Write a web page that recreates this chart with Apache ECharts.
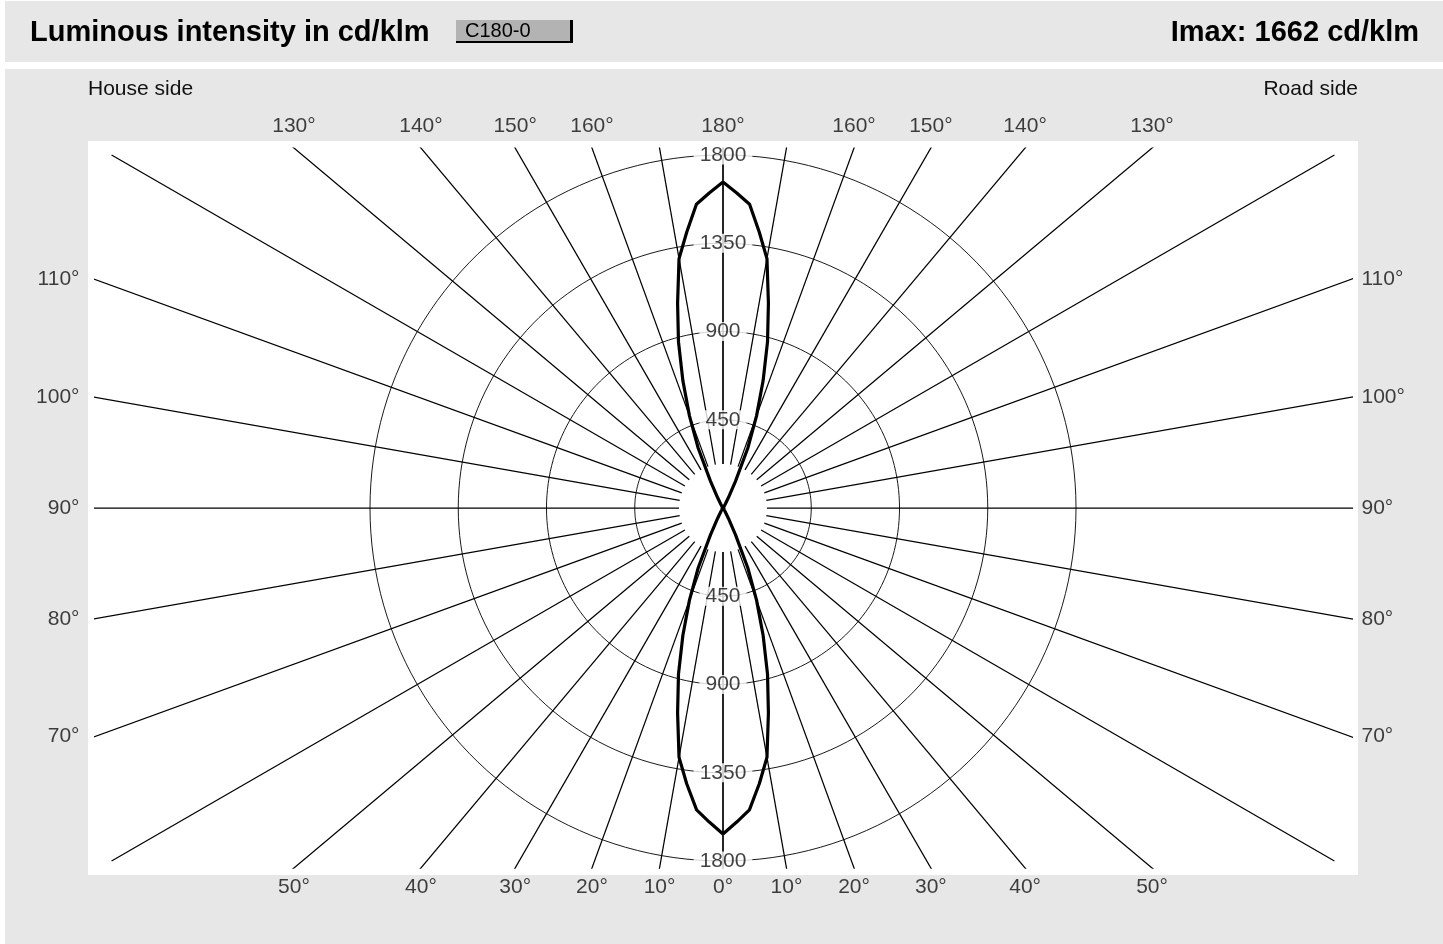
<!DOCTYPE html>
<html>
<head>
<meta charset="utf-8">
<script src="https://cdn.jsdelivr.net/npm/echarts@6.0.0/dist/echarts.min.js"></script>
<style>
html,body{margin:0;padding:0;background:#fff;}
#chart{width:1443px;height:944px;}
</style>
</head>
<body>
<div id="chart"></div>
<script>
// gamma angle in degrees, 0 = straight down, 180 = straight up
var gammaDeg = [0,2.5,5,7.5,10,12.5,15,17.5,20,22.5,25,27.5,30,35,40,45,50,55,60,65,70,75,80,85,90,
    95,100,105,110,115,120,125,130,135,140,145,150,152.5,155,157.5,160,162.5,165,167.5,170,172.5,175,177.5,180];
// road side (C0) and house side (C180), cd/klm
var c0 = [1662,1603,1545,1418,1291,1070,877,680,500,330,150,60,25,10,5,3,2,1,1,1,0,0,0,0,0,
    0,0,0,0,1,1,1,2,3,5,10,25,60,150,330,500,680,877,1070,1291,1418,1555,1608,1662];
var c180 = [1662,1603,1545,1418,1291,1070,877,680,500,330,150,60,25,10,5,3,2,1,1,1,0,0,0,0,0,
    0,0,0,0,1,1,1,2,3,5,10,25,60,150,330,500,680,877,1070,1291,1418,1555,1608,1662];

var ringValues = [450, 900, 1350, 1800];
var ringLabels = ['450', '900', '1350', '1800'];
var spokeAngles = [0,10,20,30,40,50,60,70,80,90,100,110,120,130,140,150,160,170,180];
var labeledAngles = [0,10,20,30,40,50,70,80,90,100,110,130,140,150,160,180];

var cdPerPx = 1800 / 353;
var xMax = 628 * cdPerPx, yMax = 360 * cdPerPx;
var rInner = 44 * cdPerPx, rOuter = 3600;
var textFont = 'Liberation Sans, Arial, sans-serif';

function pt(r, deg, side) {
    var a = deg * Math.PI / 180;
    return [side * r * Math.sin(a), -r * Math.cos(a)];
}

var myChart = echarts.init(document.getElementById('chart'));
var series = [];

// rings
ringValues.forEach(function (v) {
    var d = [];
    for (var a = 0; a <= 360; a += 2) d.push(pt(v, a, 1));
    series.push({type: 'line', data: d, symbol: 'none', silent: true, z: 1,
        lineStyle: {color: '#000', width: 0.9}});
});

// spokes, both sides
[1, -1].forEach(function (side) {
    spokeAngles.forEach(function (a) {
        series.push({type: 'line', data: [pt(rInner, a, side), pt(rOuter, a, side)], symbol: 'none',
            silent: true, z: 1, clip: true, lineStyle: {color: '#000', width: 1.25}});
    });
});

// ring value labels, up and down
var ringPts = [];
ringValues.forEach(function (v, i) {
    ringPts.push({value: [0, v], name: ringLabels[i]});
    ringPts.push({value: [0, -v], name: ringLabels[i]});
});
series.push({type: 'scatter', data: ringPts, symbolSize: 1, z: 5, silent: true,
    itemStyle: {color: 'rgba(0,0,0,0)'},
    label: {show: true, position: 'inside', formatter: '{b}', fontSize: 21, color: '#111',
        fontFamily: textFont, backgroundColor: '#fff',
        padding: [2, 6, 0, 6], lineHeight: 17}});

// angle labels at the ends of the spokes
var angPts = [];
[1, -1].forEach(function (side) {
    labeledAngles.forEach(function (a) {
        if (side < 0 && (a === 0 || a === 180)) return;
        var rad = a * Math.PI / 180;
        var s = Math.abs(Math.sin(rad)), c = Math.abs(Math.cos(rad));
        var tx = s > 1e-9 ? xMax / s : Infinity;
        var ty = c > 1e-9 ? yMax / c : Infinity;
        var t = Math.min(tx, ty, rOuter);
        var pos, dist;
        if (ty <= tx) { pos = a < 90 ? 'bottom' : 'top'; dist = a < 90 ? 8 : 11; }
        else { pos = side > 0 ? 'right' : 'left'; dist = side > 0 ? 10 : 15; }
        angPts.push({value: pt(t, a, side), name: a + '°',
            label: {position: pos, distance: dist}});
    });
});
series.push({type: 'scatter', data: angPts, symbolSize: 1, z: 5, silent: true, clip: false,
    itemStyle: {color: 'rgba(0,0,0,0)'},
    label: {show: true, formatter: '{b}', fontSize: 21, color: '#111', fontFamily: textFont}});

// intensity curve
series.push({type: 'line', name: 'C0', z: 10, symbol: 'none', silent: true,
    data: gammaDeg.map(function (g, i) { return pt(c0[i], g, 1); }),
    lineStyle: {color: '#000', width: 3.2, join: 'round'}});
series.push({type: 'line', name: 'C180', z: 10, symbol: 'none', silent: true,
    data: gammaDeg.map(function (g, i) { return pt(c180[i], g, -1); }),
    lineStyle: {color: '#000', width: 3.2, join: 'round'}});

option = {
    animation: false,
    backgroundColor: '#fff',
    grid: {left: 95, top: 148, width: 1256, height: 720, show: false},
    xAxis: {type: 'value', min: -xMax, max: xMax, show: false},
    yAxis: {type: 'value', min: -yMax, max: yMax, show: false},
    graphic: [
        {type: 'rect', z: -10, shape: {x: 5, y: 1, width: 1438, height: 61}, style: {fill: '#e7e7e7'}},
        {type: 'rect', z: -10, shape: {x: 5, y: 69, width: 1438, height: 875}, style: {fill: '#e7e7e7'}},
        {type: 'rect', z: -9, shape: {x: 88, y: 141, width: 1270, height: 734}, style: {fill: '#fff'}},
        {type: 'text', z: 1, x: 30, y: 33, style: {text: 'Luminous intensity in cd/klm', fill: '#000',
            font: 'bold 29px "Liberation Sans", Arial, sans-serif', align: 'left', verticalAlign: 'middle'}},
        {type: 'rect', z: 1, shape: {x: 456, y: 20, width: 117, height: 23}, style: {fill: '#b3b3b3'}},
        {type: 'rect', z: 2, shape: {x: 456, y: 41, width: 117, height: 2}, style: {fill: '#000'}},
        {type: 'rect', z: 2, shape: {x: 570, y: 20, width: 3, height: 23}, style: {fill: '#000'}},
        {type: 'text', z: 3, x: 465, y: 31, style: {text: 'C180-0', fill: '#000',
            font: '20px "Liberation Sans", Arial, sans-serif', align: 'left', verticalAlign: 'middle'}},
        {type: 'text', z: 1, x: 1419, y: 33, style: {text: 'Imax: 1662 cd/klm', fill: '#000',
            font: 'bold 29px "Liberation Sans", Arial, sans-serif', align: 'right', verticalAlign: 'middle'}},
        {type: 'text', z: 1, x: 88, y: 89, style: {text: 'House side', fill: '#111',
            font: '21px "Liberation Sans", Arial, sans-serif', align: 'left', verticalAlign: 'middle'}},
        {type: 'text', z: 1, x: 1358, y: 89, style: {text: 'Road side', fill: '#111',
            font: '21px "Liberation Sans", Arial, sans-serif', align: 'right', verticalAlign: 'middle'}}
    ],
    series: series
};

myChart.setOption(option);
</script>
</body>
</html>
